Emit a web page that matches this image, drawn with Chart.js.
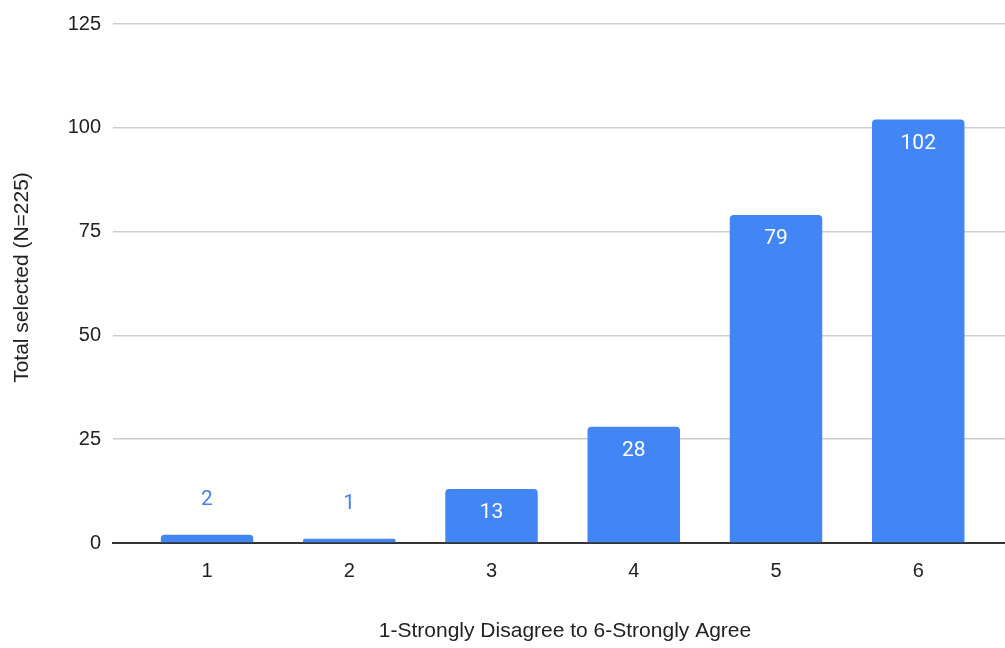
<!DOCTYPE html>
<html>
<head>
<meta charset="utf-8">
<script src="https://cdn.jsdelivr.net/npm/chart.js@4"></script>
<style>
  html, body { margin: 0; padding: 0; background: #ffffff; }
  #wrap { width: 1005px; height: 648px; }
</style>
</head>
<body>
<div id="wrap"><canvas id="c" width="1005" height="648"></canvas></div>
<script>
// Responses on a 1-6 agreement scale
const categories = ['1', '2', '3', '4', '5', '6'];
const totals = [2, 1, 13, 28, 79, 102];
const yTicks = [0, 25, 50, 75, 100, 125];
const xTitle = '1-Strongly Disagree to 6-Strongly Agree';
const yTitle = 'Total selected (N=225)';

const BAR_BLUE = '#4285F4';
const TEXT_DARK = '#222222';
const AXIS_FONT = "'Liberation Sans', Arial, sans-serif";

// Value labels: white inside tall bars, blue above short ones
const valueLabels = {
  id: 'valueLabels',
  afterDatasetsDraw(chart) {
    const { ctx } = chart;
    const meta = chart.getDatasetMeta(0);
    ctx.save();
    ctx.font = "21px Roboto, 'Liberation Sans', sans-serif";
    ctx.textAlign = 'center';
    ctx.textBaseline = 'middle';
    meta.data.forEach((bar, i) => {
      const v = totals[i];
      const h = bar.base - bar.y;
      if (h > 40) {
        ctx.fillStyle = '#ffffff';
        ctx.fillText(String(v), bar.x, bar.y + 24);
      } else {
        ctx.fillStyle = '#4a80e8';
        ctx.fillText(String(v), bar.x, bar.y - 35);
      }
    });
    ctx.restore();
  }
};

// Axis titles, placed relative to the plot area
const axisTitles = {
  id: 'axisTitles',
  afterDraw(chart) {
    const { ctx, chartArea } = chart;
    ctx.save();
    ctx.font = '21px ' + AXIS_FONT;
    ctx.fillStyle = TEXT_DARK;
    ctx.textAlign = 'center';
    ctx.textBaseline = 'middle';
    ctx.fillText(xTitle, (chartArea.left + chartArea.right) / 2 + 6, chartArea.bottom + 88);
    ctx.translate(22, (chartArea.top + chartArea.bottom) / 2 - 6);
    ctx.rotate(-Math.PI / 2);
    ctx.fillText(yTitle, 0, 0);
    ctx.restore();
  }
};

new Chart(document.getElementById('c'), {
  type: 'bar',
  data: {
    datasets: [{
      data: categories.map((c, i) => ({ x: Number(c), y: totals[i] })),
      backgroundColor: BAR_BLUE,
      borderRadius: { topLeft: 4, topRight: 4, bottomLeft: 0, bottomRight: 0 },
      borderSkipped: 'bottom',
      barPercentage: 0.65,
      categoryPercentage: 1.0
    }]
  },
  options: {
    responsive: false,
    animation: false,
    layout: { padding: { top: 23, right: 0, bottom: 0, left: 0 } },
    plugins: {
      legend: { display: false },
      tooltip: { enabled: false }
    },
    scales: {
      x: {
        type: 'linear',
        offset: false,
        min: 0.339,
        max: 6.61,
        afterBuildTicks(scale) {
          scale.ticks = categories.map(c => ({ value: Number(c) }));
        },
        afterFit(scale) { scale.height = 105; },
        grid: { display: false, drawTicks: false },
        border: { display: true, color: '#333333', width: 2 },
        ticks: {
          padding: 16,
          color: TEXT_DARK,
          font: { family: AXIS_FONT, size: 20 },
          callback: (v) => categories[categories.indexOf(String(v))] ?? ''
        },
        title: { display: false }
      },
      y: {
        min: 0,
        max: 125,
        afterBuildTicks(scale) {
          scale.ticks = yTicks.map(v => ({ value: v }));
        },
        afterFit(scale) { scale.width = 113; },
        grid: { color: '#cccccc', lineWidth: 1.5, drawTicks: false },
        border: { display: false },
        ticks: {
          padding: 12,
          color: TEXT_DARK,
          font: { family: AXIS_FONT, size: 20 }
        },
        title: { display: false }
      }
    }
  },
  plugins: [valueLabels, axisTitles]
});
</script>
</body>
</html>
